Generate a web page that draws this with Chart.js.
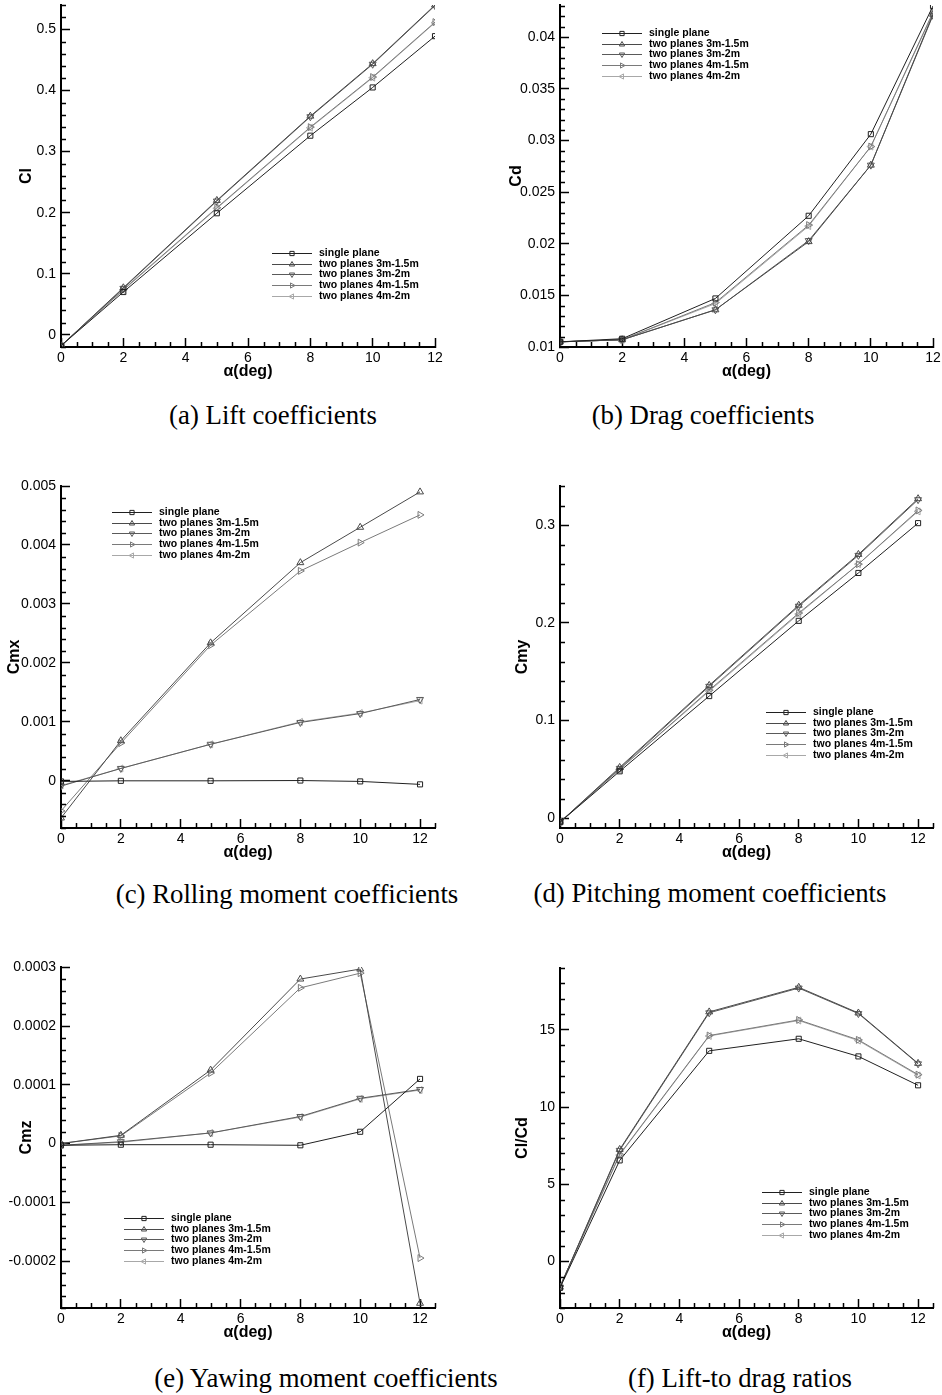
<!DOCTYPE html>
<html>
<head>
<meta charset="utf-8">
<script src="https://cdn.jsdelivr.net/npm/chart.js@4.4.1/dist/chart.umd.min.js"></script>
<style>
  html, body { margin: 0; padding: 0; background: #fff; }
  #page { position: relative; width: 942px; height: 1395px; background: #fff; overflow: hidden; }
  .panel { position: absolute; }
  .caption { position: absolute; width: 440px; text-align: center; white-space: nowrap;
    font-family: "Liberation Serif", "Times New Roman", serif; font-size: 26.8px; line-height: 30px; color: #000; }
</style>
</head>
<body>
<div id="page"></div>
<script>
// angle of attack (deg)
const alpha = [0, 2, 5, 8, 10, 12];
const seriesNames = ["single plane", "two planes 3m-1.5m", "two planes 3m-2m", "two planes 4m-1.5m", "two planes 4m-2m"];

// one row per configuration, same order as seriesNames
const clValues = [
  [-0.018, 0.070, 0.199, 0.326, 0.405, 0.489],
  [-0.018, 0.077, 0.220, 0.358, 0.444, 0.540],
  [-0.018, 0.076, 0.219, 0.357, 0.443, 0.539],
  [-0.018, 0.074, 0.208, 0.340, 0.422, 0.512],
  [-0.018, 0.073, 0.207, 0.339, 0.421, 0.511]
];
const cdValues = [
  [0.0105, 0.0108, 0.0147, 0.0227, 0.0306, 0.0430],
  [0.0105, 0.0107, 0.0136, 0.0202, 0.0276, 0.0422],
  [0.0105, 0.0107, 0.0136, 0.0203, 0.0276, 0.0421],
  [0.0105, 0.0107, 0.0143, 0.0218, 0.0294, 0.0424],
  [0.0105, 0.0107, 0.0142, 0.0217, 0.0294, 0.0423]
];
const cmxValues = [
  [-0.00001, 0.0, 0.0, 0.000005, -0.00001, -0.00006],
  [-0.00063, 0.00068, 0.00234, 0.0037, 0.0043, 0.0049],
  [-0.00009, 0.00021, 0.00062, 0.00099, 0.00114, 0.00138],
  [-0.00051, 0.00064, 0.0023, 0.00356, 0.00404, 0.00451],
  [-0.00008, 0.00021, 0.00062, 0.001, 0.00115, 0.00136]
];
const cmyValues = [
  [-0.004, 0.048, 0.125, 0.202, 0.251, 0.302],
  [-0.004, 0.052, 0.136, 0.218, 0.270, 0.327],
  [-0.004, 0.051, 0.135, 0.217, 0.269, 0.326],
  [-0.004, 0.050, 0.131, 0.210, 0.260, 0.315],
  [-0.004, 0.050, 0.130, 0.209, 0.260, 0.314]
];
const cmzValues = [
  [-0.000003, -0.000002, -0.000002, -0.000003, 0.00002, 0.00011],
  [0.0, 0.000014, 0.000125, 0.00028, 0.000297, -0.000272],
  [-0.000003, 0.000003, 0.000018, 0.000046, 0.000077, 0.000092],
  [0.0, 0.000013, 0.00012, 0.000265, 0.00029, -0.000195],
  [-0.000003, 0.000002, 0.000018, 0.000045, 0.000076, 0.000091]
];
const ldValues = [
  [-1.70, 6.55, 13.64, 14.42, 13.28, 11.41],
  [-1.65, 7.26, 16.16, 17.75, 16.09, 12.83],
  [-1.65, 7.20, 16.10, 17.70, 16.05, 12.80],
  [-1.60, 6.94, 14.63, 15.64, 14.35, 12.10],
  [-1.60, 6.90, 14.60, 15.60, 14.30, 12.05]
];

// line colour and hollow marker for each configuration
const lineColors = ["#202020", "#4a4a4a", "#5a5a5a", "#7a7a7a", "#a8a8a8"];
const markerShapes = ["rect", "triangle", "triangle", "triangle", "triangle"];
const markerTurns = [0, 0, 180, 90, 270];

const FONT = "'Liberation Sans', Arial, sans-serif";
Chart.defaults.font.family = FONT;
Chart.defaults.color = "#000";

// panel layout: box = canvas [left, top, w, h], plot = chart area [x0, y0, x1, y1] in page px
const panels = [
  { values: clValues, yTitle: "Cl", yMin: -0.02, yMax: 0.54, yStep: 0.1, yMinor: 0.02, xMax: 12,
    box: [0, 0, 470, 390], plot: [61, 5, 435, 347], yTitleX: 27, xTitleY: 372, legend: [211, 248],
    caption: "(a) Lift coefficients", capAt: [273, 415] },
  { values: cdValues, yTitle: "Cd", yMin: 0.01, yMax: 0.0431, yStep: 0.005, yMinor: 0.001, xMax: 12,
    box: [470, 0, 472, 390], plot: [560, 5, 933, 347], yTitleX: 517, xTitleY: 372, legend: [42, 28],
    caption: "(b) Drag coefficients", capAt: [703, 415] },
  { values: cmxValues, yTitle: "Cmx", yMin: -0.0008, yMax: 0.005, yStep: 0.001, yMinor: 0.0002, xMax: 12.5,
    box: [0, 465, 470, 410], plot: [61, 486, 435, 828], yTitleX: 15, xTitleY: 853, legend: [51, 26],
    caption: "(c) Rolling moment coefficients", capAt: [287, 894] },
  { values: cmyValues, yTitle: "Cmy", yMin: -0.01, yMax: 0.34, yStep: 0.1, yMinor: 0.02, xMax: 12.5,
    box: [470, 465, 472, 410], plot: [560, 486, 933, 828], yTitleX: 523, xTitleY: 853, legend: [206, 226],
    caption: "(d) Pitching moment coefficients", capAt: [710, 893] },
  { values: cmzValues, yTitle: "Cmz", yMin: -0.00028, yMax: 0.0003005, yStep: 0.0001, yMinor: 0.00002, xMax: 12.5,
    box: [0, 945, 470, 410], plot: [61, 967, 435, 1308], yTitleX: 27, xTitleY: 1333, legend: [63, 251],
    caption: "(e) Yawing moment coefficients", capAt: [326, 1378] },
  { values: ldValues, yTitle: "Cl/Cd", yMin: -3, yMax: 19, yStep: 5, yMinor: 1, xMax: 12.5,
    box: [470, 945, 472, 410], plot: [560, 968, 933, 1308], yTitleX: 523, xTitleY: 1333, legend: [202, 224],
    caption: "(f) Lift-to drag ratios", capAt: [740, 1378] }
];

const MAJOR_TICK = 9;   // drawn by Chart.js, pointing into the plot
const MINOR_TICK = 5;   // drawn by the plugin below

function drawMarker(ctx, shape, turn, x, y, r) {
  ctx.beginPath();
  if (shape === "rect") {
    const s = r * Math.SQRT1_2;
    ctx.rect(x - s, y - s, 2 * s, 2 * s);
  } else {
    for (let k = 0; k < 3; k++) {
      const rad = (turn + k * 120) * Math.PI / 180;
      const px = x + Math.sin(rad) * r, py = y - Math.cos(rad) * r;
      if (k === 0) ctx.moveTo(px, py); else ctx.lineTo(px, py);
    }
    ctx.closePath();
  }
  ctx.stroke();
}

// short in-between ticks plus the line/marker legend inside the plot
const plotDecor = {
  id: "plotDecor",
  afterDraw(chart, args, opts) {
    const ctx = chart.ctx;
    const a = chart.chartArea;
    const left = a.left, right = a.right, top = a.top, bottom = a.bottom;
    ctx.save();
    ctx.strokeStyle = "#000";
    ctx.lineWidth = 1.5;
    ctx.beginPath();
    // x axis, major every 2 deg, minor every 0.5
    for (let k = 1; k * 0.5 < opts.xMax + 1e-9; k++) {
      if (k % 4 === 0) continue;
      const px = Math.round(left + (k * 0.5) / opts.xMax * (right - left)) + 0.5;
      ctx.moveTo(px, bottom);
      ctx.lineTo(px, bottom - MINOR_TICK);
    }
    // y axis
    const span = opts.yMax - opts.yMin;
    const k0 = Math.ceil(opts.yMin / opts.yMinor - 1e-6);
    const k1 = Math.floor(opts.yMax / opts.yMinor + 1e-6);
    for (let k = k0; k <= k1; k++) {
      const v = k * opts.yMinor;
      const q = v / opts.yStep;
      if (Math.abs(q - Math.round(q)) < 1e-6) continue;
      const py = Math.round(bottom - (v - opts.yMin) / span * (bottom - top)) + 0.5;
      ctx.moveTo(left, py);
      ctx.lineTo(left + MINOR_TICK, py);
    }
    ctx.stroke();

    ctx.font = "bold 10.5px " + FONT;
    ctx.textBaseline = "middle";
    ctx.lineWidth = 1;
    chart.data.datasets.forEach((ds, i) => {
      const lx = left + opts.dx;
      const ly = Math.round(top + opts.dy + i * 10.7) + 0.5;
      ctx.strokeStyle = ds.borderColor;
      ctx.beginPath();
      ctx.moveTo(lx, ly);
      ctx.lineTo(lx + 40, ly);
      ctx.stroke();
      drawMarker(ctx, markerShapes[i], markerTurns[i], lx + 20, ly, 3);
      ctx.fillStyle = "#000";
      ctx.fillText(ds.label, lx + 47, ly);
    });
    ctx.restore();
  }
};

function fmt(v) {
  if (Math.abs(v) < 1e-12) return "0";
  return String(+v.toFixed(6));
}

const page = document.getElementById("page");

panels.forEach(p => {
  const [left, top, w, h] = p.box;
  const [x0, y0, x1, y1] = p.plot;
  const yAxisWidth = x0 - left;
  const xAxisHeight = top + h - y1;

  const wrap = document.createElement("div");
  wrap.className = "panel";
  wrap.style.left = left + "px";
  wrap.style.top = top + "px";
  const canvas = document.createElement("canvas");
  canvas.width = w;
  canvas.height = h;
  wrap.appendChild(canvas);
  page.appendChild(wrap);

  const datasets = p.values.map((row, i) => ({
    label: seriesNames[i],
    data: alpha.map((a, j) => ({ x: a, y: row[j] })),
    borderColor: lineColors[i],
    borderWidth: 1,
    backgroundColor: "rgba(0,0,0,0)",
    pointStyle: markerShapes[i],
    pointRotation: markerTurns[i],
    pointRadius: markerShapes[i] === "rect" ? 3.6 : 4,
    pointBorderWidth: 1,
    pointBorderColor: lineColors[i],
    pointBackgroundColor: "rgba(0,0,0,0)",
    tension: 0,
    fill: false
  }));

  // negative tickLength turns Chart.js ticks inward; label padding makes up for it
  const inwardGrid = { display: true, drawOnChartArea: false, drawTicks: true,
                       tickLength: -MAJOR_TICK, tickColor: "#000", tickWidth: 1.5 };

  new Chart(canvas, {
    type: "line",
    data: { datasets },
    plugins: [plotDecor],
    options: {
      responsive: false,
      animation: false,
      devicePixelRatio: 1,
      layout: { padding: { top: y0 - top, right: left + w - x1, left: 0, bottom: 0 } },
      plugins: {
        legend: { display: false },
        tooltip: { enabled: false },
        plotDecor: { xMax: p.xMax, yMin: p.yMin, yMax: p.yMax, yStep: p.yStep, yMinor: p.yMinor,
                     dx: p.legend[0], dy: p.legend[1] }
      },
      scales: {
        x: {
          type: "linear",
          min: 0,
          max: p.xMax,
          grid: inwardGrid,
          border: { display: true, color: "#000", width: 2 },
          ticks: { stepSize: 2, includeBounds: false, autoSkip: false, maxRotation: 0,
                   padding: 3 + MAJOR_TICK, font: { size: 14 }, callback: v => fmt(v) },
          title: { display: true, text: "α(deg)", font: { size: 16, weight: "bold" },
                   padding: { top: 0, bottom: top + h - p.xTitleY - 9.6 } },
          afterFit(scale) {
            scale.height = xAxisHeight;
            scale.paddingLeft = 0;
            scale.paddingRight = 0;
          }
        },
        y: {
          type: "linear",
          min: p.yMin,
          max: p.yMax,
          grid: inwardGrid,
          border: { display: true, color: "#000", width: 2 },
          ticks: { stepSize: p.yStep, includeBounds: false, autoSkip: false,
                   padding: 5 + MAJOR_TICK, font: { size: 14 }, callback: v => fmt(v) },
          title: { display: true, text: p.yTitle, font: { size: 16, weight: "bold" },
                   padding: { top: p.yTitleX - left - 9.6, bottom: 0 } },
          afterFit(scale) {
            scale.width = yAxisWidth;
            scale.paddingTop = 0;
            scale.paddingBottom = 0;
          }
        }
      }
    }
  });

  const cap = document.createElement("div");
  cap.className = "caption";
  cap.textContent = p.caption;
  cap.style.left = (p.capAt[0] - 220) + "px";
  cap.style.top = (p.capAt[1] - 15) + "px";
  page.appendChild(cap);
});
</script>
</body>
</html>
